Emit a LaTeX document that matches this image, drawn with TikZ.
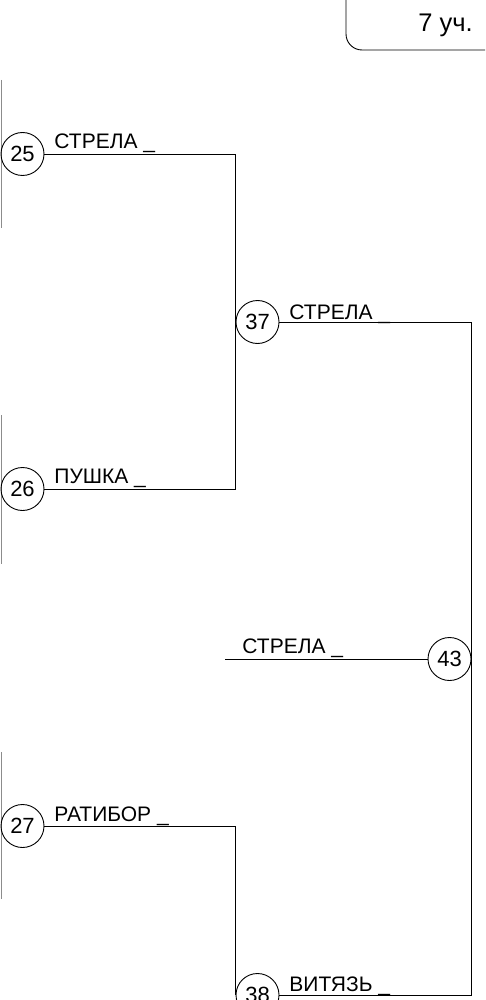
\documentclass[tikz,border=0pt]{standalone}
\usepackage{fontspec}
\setmainfont{Liberation Sans}
\begin{document}
\begin{tikzpicture}[x=1pt,y=-1pt,
  line width=0.9pt,
  num/.style={circle,draw,minimum size=43pt,inner sep=0pt,font=\fontsize{22}{22}\selectfont},
  lbl/.style={anchor=base west,inner sep=0pt,font=\fontsize{21}{21}\selectfont},
  grey/.style={draw=gray!90,line width=0.9pt}]
\clip (0,0) rectangle (485,1000);
\fill[white] (0,0) rectangle (485,1000);
% header box
\draw[rounded corners=16pt] (346,-10) -- (346,50) -- (500,50);
\node[anchor=base west,inner sep=0pt,font=\fontsize{25.5}{25}\selectfont] (hdr) at (418,32) {7 уч.};
% grey side lines
\draw[grey] (1,80) -- (1,228);
\draw[grey] (1,415) -- (1,564);
\draw[grey] (1,752) -- (1,899);
% circles
\node[num] (c25) at (22.5,154) {25};
\node[num] (c26) at (22.5,489) {26};
\node[num] (c27) at (22.5,826) {27};
\node[num] (c37) at (257.5,322) {37};
\node[num] (c38) at (257.5,995) {38};
\node[num] (c43) at (449.5,659) {43};
\coordinate (s43) at (225,659);
% connectors
\draw (c25.east) -| (c37.west);
\draw (c26.east) -| (c37.west);
\draw (c27.east) -| (c38.west);
\draw (c37.east) -| (c43.east);
\draw (c38.east) -| (c43.east);
\draw (s43) -- (c43.west);
% labels
\node[lbl] (l25) at (54,149) {СТРЕЛА \_};
\node[lbl] (l26) at (54,483) {ПУШКА \_};
\node[lbl] (l27) at (54,821) {РАТИБОР \_};
\node[lbl] (l37) at (289,319) {СТРЕЛА \_};
\node[lbl] (l43) at (242,653) {СТРЕЛА \_};
\node[lbl] (l38) at (289,991) {ВИТЯЗЬ \_};
\end{tikzpicture}
\end{document}
